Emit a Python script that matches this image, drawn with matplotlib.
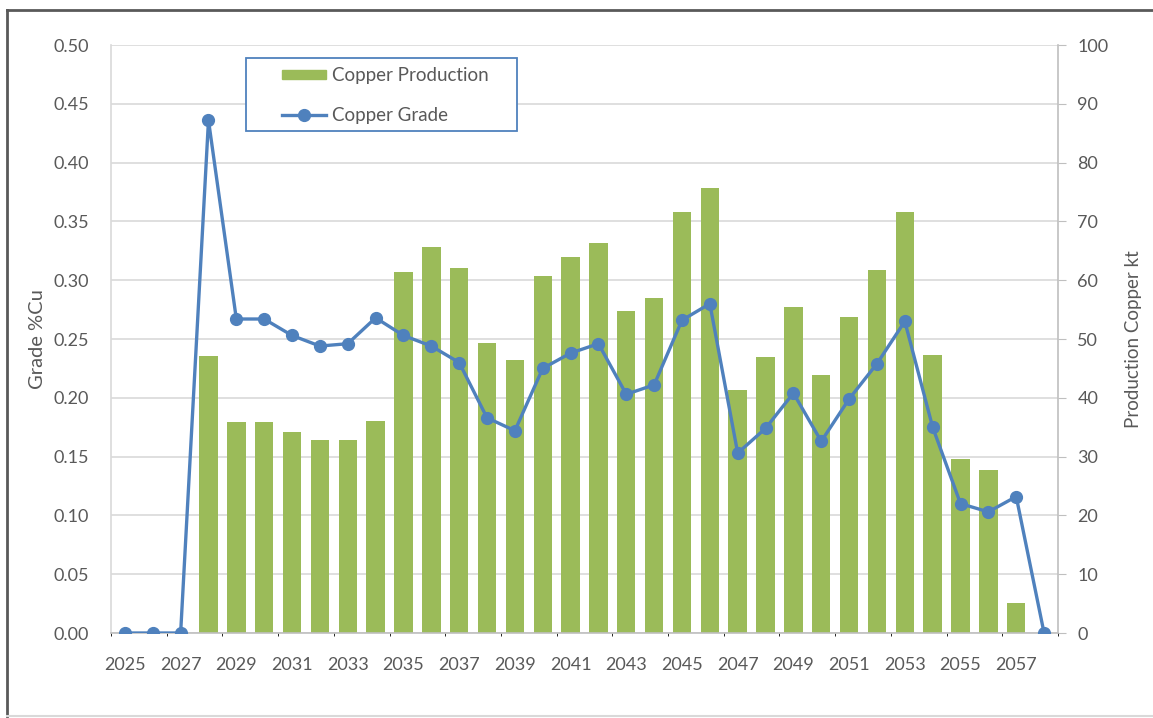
import numpy as np
import matplotlib.pyplot as plt
from matplotlib.lines import Line2D
from matplotlib.patches import Rectangle

plt.rcParams['font.family'] = ['Lato', 'DejaVu Sans']

years = list(range(2025, 2059))

# copper production, kt (right axis)
production = [0, 0, 0, 47.1, 35.9, 35.9, 34.1, 32.8, 32.9, 36.1,
              61.4, 65.6, 62.0, 49.3, 46.5, 60.7, 64.0, 66.3, 54.8, 56.9,
              71.6, 75.6, 41.4, 46.9, 55.4, 43.9, 53.8, 61.8, 71.6, 47.3,
              29.6, 27.8, 5.1, 0]

# head grade, %Cu (left axis)
grade = [0, 0, 0, 0.436, 0.267, 0.267, 0.253, 0.244, 0.246, 0.268,
         0.253, 0.244, 0.230, 0.183, 0.172, 0.225, 0.238, 0.246, 0.203, 0.211,
         0.266, 0.280, 0.153, 0.174, 0.204, 0.163, 0.199, 0.229, 0.265, 0.175,
         0.110, 0.103, 0.116, 0]

green = '#9BBB59'
blue = '#4F81BD'
txt = '#595959'
gridc = '#d9d9d9'

W, H = 1153, 718
x = np.arange(len(years))

fig = plt.figure(figsize=(W / 100, H / 100), dpi=100)
ax = fig.add_axes([111 / W, 1 - 633 / H, (1058 - 111) / W, (633 - 45) / H])
ax2 = ax.twinx()

# bars sit on the twin axis, line axis goes on top
ax.set_zorder(ax2.get_zorder() + 1)
ax.patch.set_visible(False)

ax2.bar(x, production, width=0.66, color=green, zorder=2)
ax2.set_ylim(0, 100)
ax2.set_yticks(np.arange(0, 101, 10))
ax2.set_ylabel('Production Copper kt', fontsize=13.5, color=txt, labelpad=12)

ax.plot(x, grade, color=blue, lw=2.4, marker='o', ms=8.5, zorder=3)
ax.set_ylim(0, 0.5)
ax.set_yticks(np.arange(0, 0.501, 0.05))
ax.set_yticklabels([f'{v:.2f}' for v in np.arange(0, 0.501, 0.05)])
ax.set_ylabel('Grade %Cu', fontsize=14.5, color=txt, labelpad=5)

ax.set_xlim(-0.5, len(years) - 0.5)
ax.set_xticks(x[::2])
ax.set_xticklabels([str(y) for y in years[::2]])
ax2.set_xticks(np.arange(-0.5, len(years), 2), minor=True)

# gridlines on the back axis so they stay behind the bars
ax2.set_axisbelow(True)
ax2.grid(axis='y', color=gridc, lw=1.2)
ax2.grid(axis='x', which='minor', color=gridc, lw=1.2)
ax2.tick_params(axis='x', which='both', length=0)

ax.tick_params(axis='y', length=0, labelsize=13, labelcolor=txt, pad=16)
ax.tick_params(axis='x', length=0, labelsize=13, labelcolor=txt, pad=17)
ax2.tick_params(axis='y', length=6, color='#bfbfbf', labelsize=13, labelcolor=txt, pad=8)

for a in (ax, ax2):
    for s in a.spines.values():
        s.set_visible(False)
ax.spines['bottom'].set_visible(True)
ax.spines['bottom'].set_color('#bfbfbf')
ax.spines['bottom'].set_linewidth(1.2)
ax2.spines['right'].set_visible(True)
ax2.spines['right'].set_color('#bfbfbf')
ax2.spines['right'].set_linewidth(1.2)
ax2.spines['left'].set_visible(True)
ax2.spines['left'].set_color(gridc)
ax2.spines['left'].set_linewidth(1.2)

# legend box drawn separately for the wide left margin
fig.add_artist(Rectangle((246 / W, 1 - 131 / H), (517 - 246) / W, (131 - 58) / H,
                         transform=fig.transFigure, facecolor='white',
                         edgecolor=blue, lw=1.3, zorder=9))
handles = [Rectangle((0, 0), 1, 1, color=green),
           Line2D([], [], color=blue, lw=2.4, marker='o', ms=8.5)]
leg = fig.legend(handles, ['Copper Production', 'Copper Grade'],
                 loc='upper left', bbox_to_anchor=(282 / W, 1 - 67 / H),
                 fontsize=13.5, labelcolor=txt, frameon=False,
                 handlelength=2.35, handleheight=0.4, handletextpad=0.3,
                 labelspacing=1.2, borderpad=0, borderaxespad=0)
leg.set_zorder(10)

# chart area outline
fig.add_artist(Line2D([7 / W, 7 / W], [1 - 716 / H, 1 - 10 / H],
                      color='#595959', lw=2, transform=fig.transFigure))
fig.add_artist(Line2D([7 / W, 1], [1 - 10 / H, 1 - 10 / H],
                      color='#595959', lw=2, transform=fig.transFigure))
fig.add_artist(Line2D([7 / W, 1], [1 - 716 / H, 1 - 716 / H],
                      color='#d9d9d9', lw=1.5, transform=fig.transFigure))

fig.savefig('out.png', dpi=100)
